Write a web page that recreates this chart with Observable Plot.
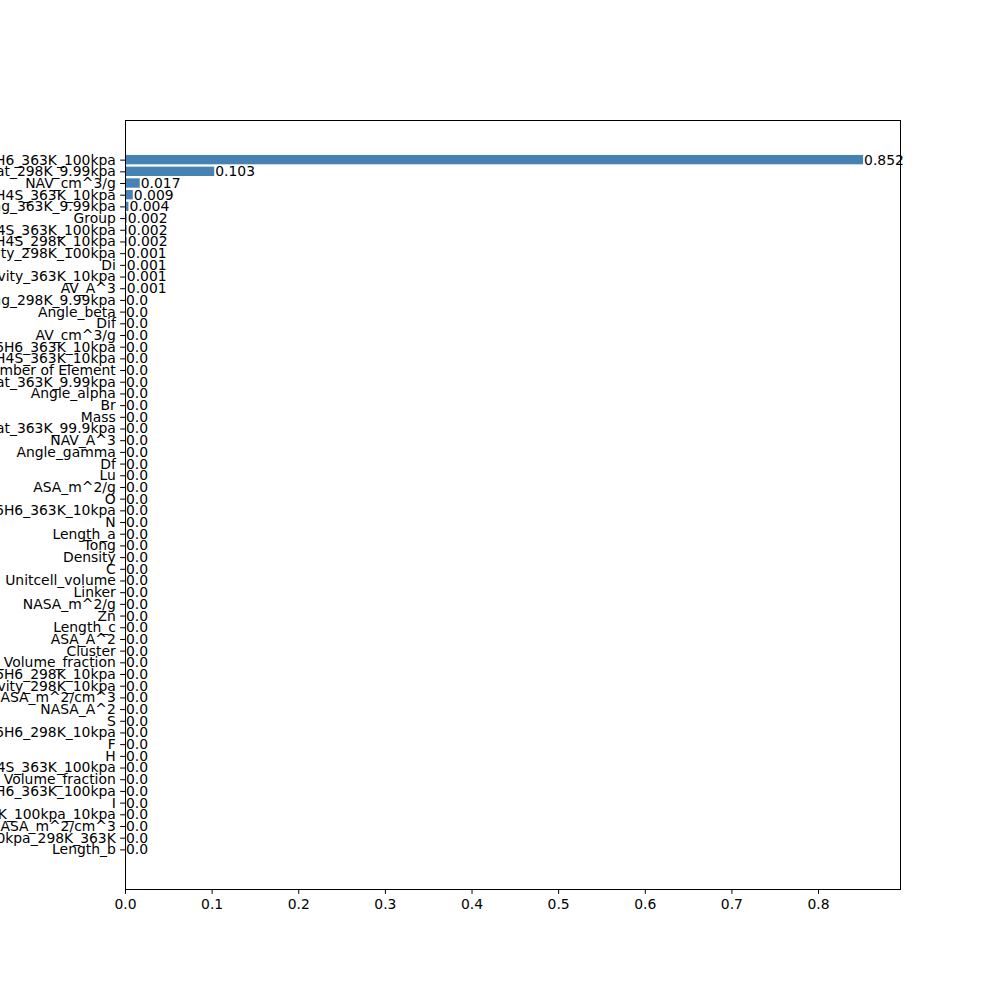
<!DOCTYPE html>
<html>
<head>
<meta charset="utf-8">
<script src="https://cdn.jsdelivr.net/npm/d3@7"></script>
<script src="https://cdn.jsdelivr.net/npm/@observablehq/plot@0.6"></script>
<style>
  html, body { margin: 0; padding: 0; background: white; }
  #chart svg { display: block; overflow: hidden; }
</style>
</head>
<body>
<div id="chart"></div>
<script>
const labels = [
  "C6H6_363K_100kpa", "Heat_298K_9.99kpa", "NAV_cm^3/g", "C4H4S_363K_10kpa", "Loading_363K_9.99kpa",
  "Group", "C4H4S_363K_100kpa", "C4H4S_298K_10kpa", "Selectivity_298K_100kpa", "Di",
  "Selectivity_363K_10kpa", "AV_A^3", "Loading_298K_9.99kpa", "Angle_beta", "Dif",
  "AV_cm^3/g", "C6H6_363K_10kpa", "C4H4S_363K_10kpa", "Number of Element", "Heat_363K_9.99kpa",
  "Angle_alpha", "Br", "Mass", "Heat_363K_99.9kpa", "NAV_A^3",
  "Angle_gamma", "Df", "Lu", "ASA_m^2/g", "O",
  "C6H6_363K_10kpa", "N", "Length_a", "Tong", "Density",
  "C", "Unitcell_volume", "Linker", "NASA_m^2/g", "Zn",
  "Length_c", "ASA_A^2", "Cluster", "AV_Volume_fraction", "C6H6_298K_10kpa",
  "Selectivity_298K_10kpa", "ASA_m^2/cm^3", "NASA_A^2", "S", "C6H6_298K_10kpa",
  "F", "H", "C4H4S_363K_100kpa", "NAV_Volume_fraction", "C6H6_363K_100kpa",
  "I", "363K_100kpa_10kpa", "ASA_m^2/cm^3", "100kpa_298K_363K", "Length_b"
];
const values = [
  0.852, 0.103, 0.017, 0.009, 0.004,
  0.002, 0.002, 0.002, 0.001, 0.001,
  0.001, 0.001, 0, 0, 0,
  0, 0, 0, 0, 0,
  0, 0, 0, 0, 0,
  0, 0, 0, 0, 0,
  0, 0, 0, 0, 0,
  0, 0, 0, 0, 0,
  0, 0, 0, 0, 0,
  0, 0, 0, 0, 0,
  0, 0, 0, 0, 0,
  0, 0, 0, 0, 0
];
const xTicks = [0, 0.1, 0.2, 0.3, 0.4, 0.5, 0.6, 0.7, 0.8];

const data = labels.map((name, i) => ({i, name, v: values[i]}));
const n = labels.length;
const span = (n - 1) + 0.8;
const pad = span * 0.05;
const fmtVal = v => { const r = Math.round(v * 1000) / 1000; return Number.isInteger(r) ? r.toFixed(1) : String(r); };
const FS = 13.9;

const chart = Plot.plot({
  width: 1000,
  height: 1000,
  marginLeft: 125,
  marginRight: 100,
  marginTop: 120,
  marginBottom: 111,
  style: {fontFamily: "DejaVu Sans", fontSize: FS + "px", color: "black", background: "white"},
  x: {domain: [0, 0.852 * 1.05], range: [125, 900]},
  y: {domain: [-0.4 - pad, n - 1 + 0.4 + pad], reverse: true},
  marks: [
    Plot.rect(data, {x1: 0, x2: "v", y1: d => d.i - 0.4, y2: d => d.i + 0.4, fill: "steelblue"}),
    Plot.text(data, {x: "v", y: "i", text: d => fmtVal(d.v), textAnchor: "start", dx: 0.5, fill: "black", fontSize: FS}),
    Plot.frame({stroke: "black", strokeWidth: 1}),
    Plot.axisY({ticks: d3.range(n), tickFormat: i => labels[i], tickSize: 4.86, tickPadding: 4.86, label: null, fontSize: FS}),
    Plot.axisX({ticks: xTicks, tickFormat: d3.format(".1f"), tickSize: 4.86, tickPadding: 4.86, label: null, fontSize: FS})
  ]
});
document.getElementById("chart").appendChild(chart);
</script>
</body>
</html>
